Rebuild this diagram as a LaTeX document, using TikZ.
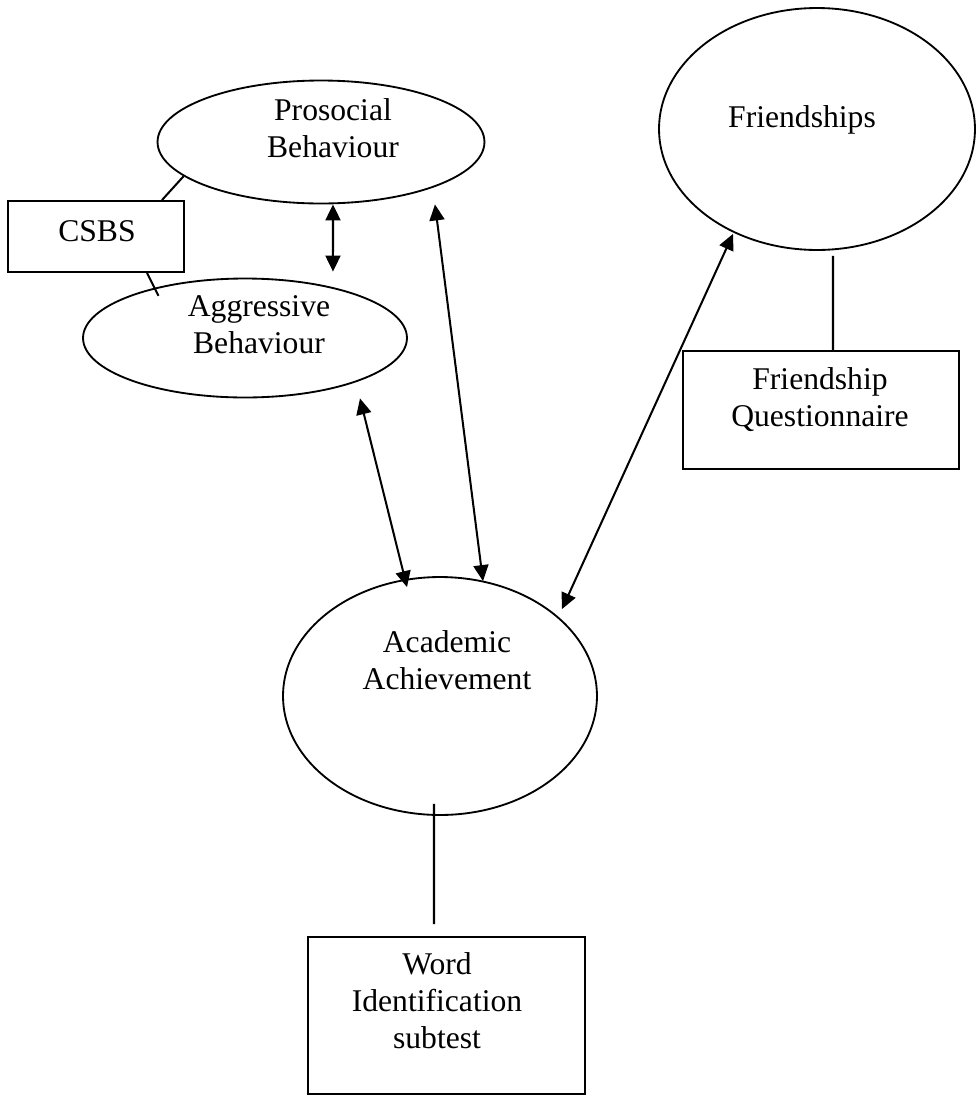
\documentclass[tikz,border=0pt]{standalone}
\usepackage{fontspec}
\setmainfont{Liberation Serif}
\usetikzlibrary{shapes.geometric,arrows.meta}
\begin{document}
\begin{tikzpicture}[x=0.02cm,y=-0.02cm,
  ell/.style={draw,ellipse,line width=1.05pt,inner sep=0pt},
  boxnode/.style={draw,rectangle,line width=1.1pt,inner sep=0pt},
  txt/.style={align=center,inner sep=0pt,font={\fontsize{18}{21}\selectfont}},
  conn/.style={line width=1.15pt},
  dbl/.style={line width=1.15pt,{Triangle[length=0.32cm,width=0.3cm]}-{Triangle[length=0.32cm,width=0.3cm]}}]
\fill[white] (0,0) rectangle (977,1096);
\useasboundingbox (0,0) rectangle (977,1096);
% shapes
\node[ell,minimum width=6.54cm,minimum height=2.46cm] (pro) at (321,142) {};
\node[ell,minimum width=6.48cm,minimum height=2.38cm] (agg) at (245,338) {};
\node[ell,minimum width=6.32cm,minimum height=4.84cm] (fri) at (817,129) {};
\node[ell,minimum width=6.28cm,minimum height=4.76cm] (acad) at (440,696) {};
\node[boxnode,minimum width=3.52cm,minimum height=1.42cm] (csbs) at (96,236.5) {};
\node[boxnode,minimum width=5.52cm,minimum height=2.36cm] (fq) at (821,410) {};
\node[boxnode,minimum width=5.54cm,minimum height=3.14cm] (word) at (446.5,1015.5) {};
% texts
\node[txt] (prot) at (333,128) {Prosocial\\Behaviour};
\node[txt] (aggt) at (259,325) {Aggressive\\Behaviour};
\node[txt] (frit) at (802,119.5) {Friendships};
\node[txt] (acadt) at (447,660.5) {Academic\\Achievement};
\node[txt] (csbst) at (97,231) {CSBS};
\node[txt] (fqt) at (820,400) {Friendship\\Questionnaire};
\node[txt] (wordt) at (437,1001) {Word\\Identification\\subtest};
% plain connectors
\draw[conn] ([xshift=1.32cm]csbs.north) -- (pro.194);
\draw[conn,shorten >=-0.18cm] ([xshift=1.02cm]csbs.south) -- (agg.151);
\draw[conn] ([shift={(0.32cm,-0.1cm)}]fri.south) -- ([xshift=0.24cm]fq.north);
\draw[conn] ([shift={(-0.12cm,0.24cm)}]acad.south) -- ([shift={(-0.25cm,0.24cm)}]word.north);
% double arrows
\draw[dbl] ([xshift=0.24cm]pro.south) -- ([shift={(1.76cm,0.12cm)}]agg.north);
\draw[dbl] ([xshift=2.3cm]agg.south) -- ([shift={(-0.66cm,-0.22cm)}]acad.north);
\draw[dbl] ([xshift=2.28cm]pro.south) -- ([shift={(0.86cm,-0.1cm)}]acad.north);
\draw[dbl] ([shift={(-1.68cm,0.34cm)}]fri.south) -- ([shift={(2.44cm,-0.66cm)}]acad.north);
\end{tikzpicture}
\end{document}
